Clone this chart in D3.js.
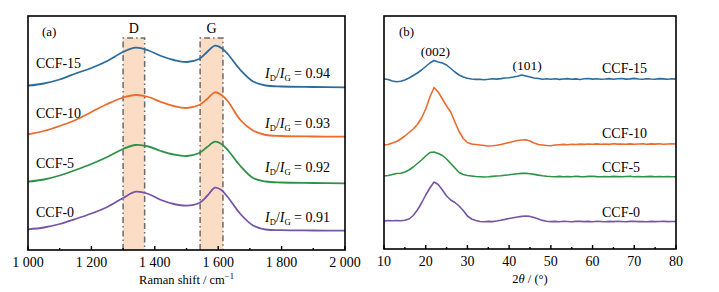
<!DOCTYPE html>
<html>
<head>
<meta charset="utf-8">
<script src="https://cdn.jsdelivr.net/npm/d3@7/dist/d3.min.js"></script>
<style>
  body { margin: 0; background: #fff; }
  svg { display: block; font-family: "Liberation Serif", "Times New Roman", serif; }
</style>
</head>
<body>
<div id="chart"></div>
<script>
// ---- Raman data (a), intensity in a.u. incl. vertical offset ----
const ramanShift = [1000, 1050, 1100, 1150, 1200, 1250, 1300, 1340, 1380, 1420, 1460, 1500,
  1540, 1565, 1590, 1610, 1630, 1670, 1710, 1750, 1800, 1900, 2000];
const ramanCCF15 = [164.3, 166.5, 170.5, 176.5, 182, 189, 198, 202.3, 199.5, 194, 190, 188,
  191, 198, 204.3, 202, 196, 180, 168.5, 164.5, 163.5, 163, 162.7];
const ramanCCF10 = [115.7, 119, 124, 130, 138, 146, 152.5, 155, 153, 148, 144, 142,
  145, 151, 157.7, 155, 149, 130, 119.5, 115, 114, 113.5, 113.3];
const ramanCCF5 = [68.3, 70.5, 74.5, 80, 86, 93, 101, 105, 103.5, 99, 95.5, 94,
  97, 103, 108.3, 106, 100, 84, 72, 68.5, 67.5, 67, 66.7];
const ramanCCF0 = [20.7, 22.5, 26, 31, 36.5, 43, 52, 58.3, 56, 50, 46, 44.3,
  47, 54, 62.3, 60, 53, 36, 24.5, 20.5, 19.8, 19.5, 19.3];
const ramanNames = ["CCF-15", "CCF-10", "CCF-5", "CCF-0"];
const ratios = ["0.94", "0.93", "0.92", "0.91"];
const bands = [{ name: "D", x0: 1300, x1: 1368 }, { name: "G", x0: 1543, x1: 1615 }];

// ---- XRD data (b) ----
const twoTheta = d3.range(10, 81); // 10..80 step 1
const xrdCCF15 = [170, 169.5, 168, 167.3, 167.8, 169, 171, 173.5, 176, 179, 182.5, 186, 188.5, 187, 186, 184,
  180.5, 177, 174, 172, 170.8, 170, 169.6, 169.8, 169.3, 169.7, 170.2, 169.9, 170.4, 171, 171.3, 172, 172.8,
  174, 173, 172, 171, 170.5, 169.8, 170.3, 169.7, 170.2, 169.6, 170, 170.4, 169.8, 170.1, 169.5, 170.2, 170.5,
  169.9, 170.3, 169.7, 170, 170.4, 169.8, 170.2, 170.5, 169.9, 170.1, 170.6, 170, 169.7, 170.3, 170, 169.8,
  170.4, 170.1, 169.7, 170.2, 170];
const xrdCCF10 = [104, 104.5, 106, 107.5, 110, 113, 116.5, 120, 124.5, 131, 140, 152, 161.5, 157, 150, 143,
  137, 127, 117.5, 110.5, 106.5, 105, 104.5, 104, 103.5, 103, 103.2, 103.8, 104.5, 105.5, 106.5, 107.5, 108.5,
  109, 109.3, 108, 106, 104.5, 104, 103.5, 103.3, 104, 104.3, 104.6, 104.2, 104.8, 104.5, 104.9, 104.6, 105,
  104.7, 105.1, 104.8, 105, 104.6, 105.2, 104.9, 105, 104.7, 105.1, 104.8, 105, 105.2, 104.8, 105.1, 104.9,
  105.2, 104.8, 105, 105.2, 105];
const xrdCCF5 = [73, 73.5, 74.5, 75.5, 75.7, 77, 79, 82, 85.5, 89, 93, 96.5, 97, 95.5, 93.5, 90,
  85.5, 81, 76.5, 74.5, 73.5, 73, 72.5, 72.3, 72, 72.2, 72.6, 73, 73.3, 73.8, 74.2, 74.7, 75.2,
  75.6, 75.7, 75.2, 74.6, 73.9, 73.3, 72.8, 72.5, 72.3, 72.6, 72.2, 72.5, 72.3, 72.7, 72.4, 72.2, 72.6,
  72.8, 72.4, 72.2, 72.5, 72.3, 72.6, 72.4, 72.2, 72.5, 72.7, 72.3, 72.5, 72.2, 72.4, 72.6, 72.3,
  72.5, 72.2, 72.4, 72.3, 72.3];
const xrdCCF0 = [28, 28.4, 28.2, 28.5, 28.3, 28.8, 30, 33.5, 39, 46, 54, 61, 67, 64.5, 59, 53,
  49, 46.5, 43, 38.5, 33, 30, 28.5, 27.5, 27.3, 27.6, 27.4, 28, 28.8, 29.6, 30.5, 31.3, 32,
  32.6, 33, 32.6, 31.5, 30, 28.6, 27.8, 27.4, 27.6, 27.3, 27.7, 27.5, 27.3, 27.6, 27.8, 27.4, 27.6,
  27.3, 27.7, 27.5, 27.3, 27.6, 27.4, 27.7, 27.5, 27.3, 27.6, 27.8, 27.4, 27.5, 27.3, 27.6, 27.4,
  27.5, 27.7, 27.4, 27.5, 27.5];
const peakLabels = [{ text: "(002)", x: 22.3, y: 193 }, { text: "(101)", x: 44.3, y: 179 }];

const colors = ["#2c6c9c", "#eb6b2c", "#2e9146", "#7654a6"];

const width = 719, height = 292;
const svg = d3.select("#chart").append("svg")
  .attr("width", width)
  .attr("height", height);

function drawFrame(g, x, y) {
  g.append("rect")
    .attr("x", x.range()[0]).attr("y", y.range()[1])
    .attr("width", x.range()[1] - x.range()[0])
    .attr("height", y.range()[0] - y.range()[1])
    .attr("fill", "none")
    .attr("stroke", "#000")
    .attr("stroke-width", 1.6);
}

function drawTicks(g, x, y, major, minor, fmt) {
  const y0 = y.range()[0];
  g.selectAll(".minor").data(minor).enter().append("line")
    .attr("x1", d => x(d)).attr("x2", d => x(d))
    .attr("y1", y0).attr("y2", y0 - 2)
    .attr("stroke", "#000").attr("stroke-width", 1.4);
  g.selectAll(".major").data(major).enter().append("line")
    .attr("x1", d => x(d)).attr("x2", d => x(d))
    .attr("y1", y0).attr("y2", y0 - 4)
    .attr("stroke", "#000").attr("stroke-width", 1.4);
  g.selectAll(".tick-label").data(major).enter().append("text")
    .attr("x", d => x(d))
    .attr("y", y0 + 17)
    .attr("text-anchor", "middle")
    .style("font-size", "14px")
    .text(fmt);
}

// ---------------- panel (a) ----------------
const xA = d3.scaleLinear().domain([1000, 2000]).range([28, 345]);
const yA = d3.scaleLinear().domain([0, 234]).range([250, 16]);
const gA = svg.append("g");

bands.forEach(b => {
  const top = 38;
  gA.append("rect")
    .attr("x", xA(b.x0)).attr("y", top)
    .attr("width", xA(b.x1) - xA(b.x0))
    .attr("height", yA(0) - top)
    .attr("fill", "#fbdcc5");
  const path = d3.path();
  path.moveTo(xA(b.x0), yA(0));
  path.lineTo(xA(b.x0), top);
  path.lineTo(xA(b.x1), top);
  path.lineTo(xA(b.x1), yA(0));
  gA.append("path")
    .attr("d", path.toString())
    .attr("fill", "none")
    .attr("stroke", "#6b6b6b")
    .attr("stroke-width", 1.5)
    .attr("stroke-dasharray", "6,3,1.5,3");
  gA.append("text")
    .attr("x", (xA(b.x0) + xA(b.x1)) / 2)
    .attr("y", 33)
    .attr("text-anchor", "middle")
    .style("font-size", "14px")
    .text(b.name);
});

const ramanSeries = [ramanCCF15, ramanCCF10, ramanCCF5, ramanCCF0];
const lineA = d3.line()
  .x(d => xA(d[0]))
  .y(d => yA(d[1]))
  .curve(d3.curveCatmullRom.alpha(0.5));

ramanSeries.forEach((s, i) => {
  gA.append("path")
    .datum(ramanShift.map((v, j) => [v, s[j]]))
    .attr("d", lineA)
    .attr("fill", "none")
    .attr("stroke", colors[i])
    .attr("stroke-width", 1.8);
});

const nameYA = [68, 118, 168, 217];
ramanNames.forEach((n, i) => {
  gA.append("text")
    .attr("x", 36).attr("y", nameYA[i])
    .style("font-size", "14px")
    .text(n);
});

const ratioY = [78, 128, 172, 222];
ratios.forEach((r, i) => {
  const t = gA.append("text")
    .attr("x", 330).attr("y", ratioY[i])
    .attr("text-anchor", "end")
    .style("font-size", "14px");
  t.append("tspan").style("font-style", "italic").text("I");
  t.append("tspan").attr("dy", 3).style("font-size", "8.5px").text("D");
  t.append("tspan").attr("dy", -3).text("/");
  t.append("tspan").style("font-style", "italic").text("I");
  t.append("tspan").attr("dy", 3).style("font-size", "8.5px").text("G");
  t.append("tspan").attr("dy", -3).text(" = " + r);
});

gA.append("text")
  .attr("x", 42).attr("y", 36)
  .style("font-size", "13px")
  .text("(a)");

drawFrame(gA, xA, yA);
drawTicks(gA, xA, yA, d3.range(1000, 2001, 200), d3.range(1100, 2000, 200),
  d => d3.format(",")(d).replace(",", " "));

const tA = gA.append("text")
  .attr("x", (xA.range()[0] + xA.range()[1]) / 2)
  .attr("y", 284)
  .attr("text-anchor", "middle")
  .style("font-size", "12.5px")
  .text("Raman shift / cm");
tA.append("tspan").attr("dy", -5).style("font-size", "8.5px").text("\u22121");

// ---------------- panel (b) ----------------
const xB = d3.scaleLinear().domain([10, 80]).range([384, 676]);
const yB = d3.scaleLinear().domain([0, 233]).range([249, 16]);
const gB = svg.append("g");

const xrdSeries = [xrdCCF15, xrdCCF10, xrdCCF5, xrdCCF0];
const lineB = d3.line()
  .x(d => xB(d[0]))
  .y(d => yB(d[1]));

xrdSeries.forEach((s, i) => {
  gB.append("path")
    .datum(twoTheta.map((v, j) => [v, s[j]]))
    .attr("d", lineB)
    .attr("fill", "none")
    .attr("stroke", colors[i])
    .attr("stroke-width", 1.6)
    .attr("stroke-linejoin", "round");
});

const nameYB = [73, 138, 172, 217];
ramanNames.forEach((n, i) => {
  gB.append("text")
    .attr("x", 602).attr("y", nameYB[i])
    .style("font-size", "14px")
    .text(n);
});

peakLabels.forEach(p => {
  gB.append("text")
    .attr("x", xB(p.x)).attr("y", yB(p.y))
    .attr("text-anchor", "middle")
    .style("font-size", "13.5px")
    .text(p.text);
});

gB.append("text")
  .attr("x", 399).attr("y", 36)
  .style("font-size", "13px")
  .text("(b)");

drawFrame(gB, xB, yB);
drawTicks(gB, xB, yB, d3.range(10, 81, 10), d3.range(15, 80, 10), d => d);

const tB = gB.append("text")
  .attr("x", (xB.range()[0] + xB.range()[1]) / 2)
  .attr("y", 283)
  .attr("text-anchor", "middle")
  .style("font-size", "12.5px");
tB.append("tspan").text("2");
tB.append("tspan").style("font-style", "italic").text("\u03b8");
tB.append("tspan").text(" / (\u00b0)");
</script>
</body>
</html>
